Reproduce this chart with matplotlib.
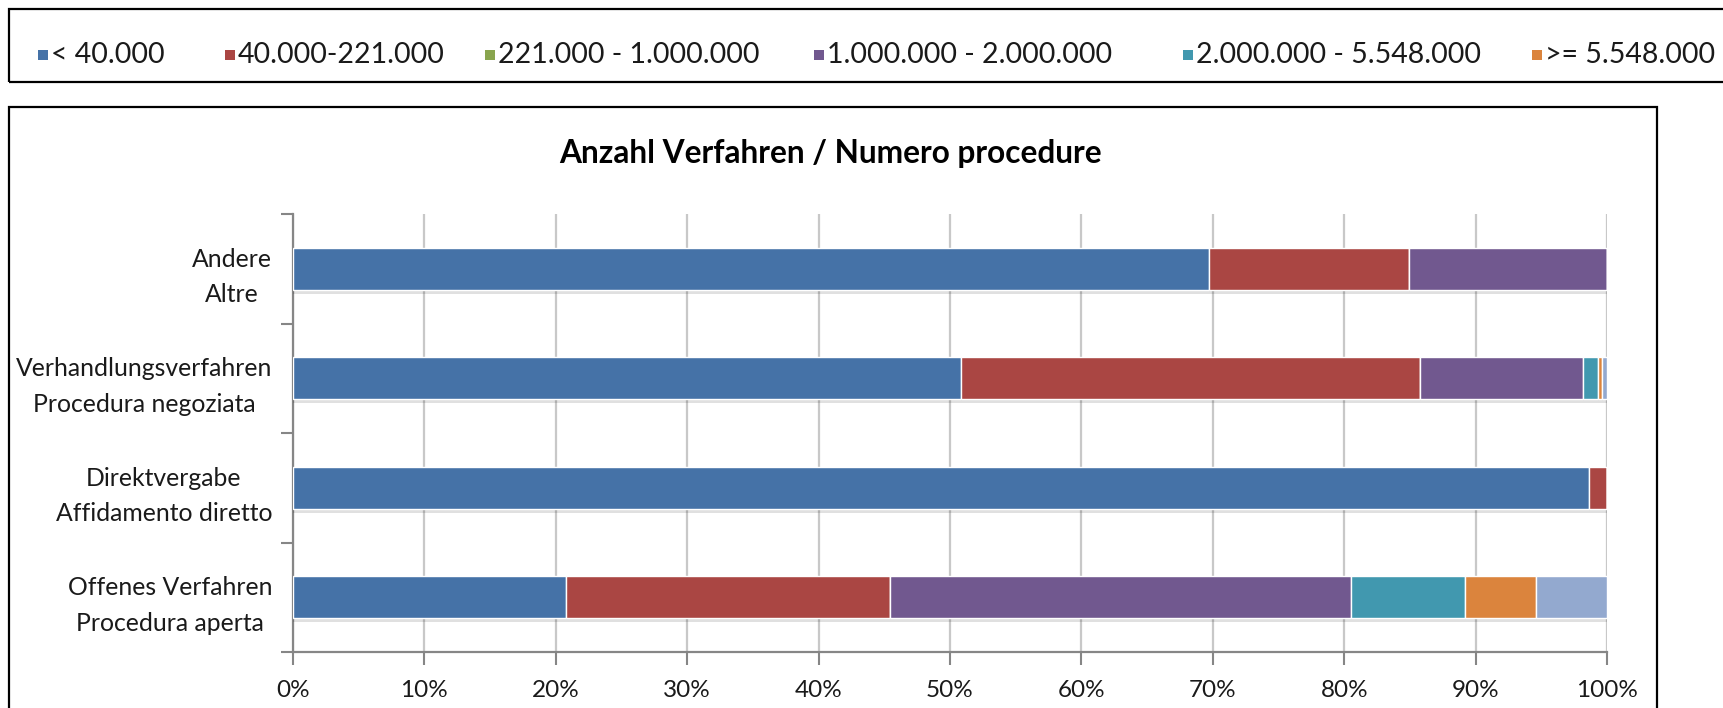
import matplotlib
matplotlib.use("Agg")
import matplotlib.pyplot as plt
import matplotlib.patheffects as pe
import matplotlib.transforms as mtransforms
from matplotlib.patches import Rectangle
import numpy as np

plt.rcParams['font.family'] = ['Lato', 'DejaVu Sans']

categories = ["Offenes Verfahren\nProcedura aperta",
              "Direktvergabe\nAffidamento diretto",
              "Verhandlungsverfahren\nProcedura negoziata",
              "Andere\nAltre"]
series_labels = ["< 40.000", "40.000-221.000", "221.000 - 1.000.000",
                 "1.000.000 - 2.000.000", "2.000.000 - 5.548.000", ">= 5.548.000", ""]
# percentages per series, in category order above
s_lt40 = [20.8, 98.6, 50.8, 69.7]
s_40_221 = [24.6, 1.4, 35.0, 15.2]
s_221_1m = [0.0, 0.0, 0.0, 0.0]
s_1m_2m = [35.1, 0.0, 12.4, 15.1]
s_2m_5m = [8.7, 0.0, 1.1, 0.0]
s_ge5m = [5.4, 0.0, 0.3, 0.0]
s_other = [5.4, 0.0, 0.4, 0.0]
series = [s_lt40, s_40_221, s_221_1m, s_1m_2m, s_2m_5m, s_ge5m, s_other]
colors = ["#4572A7", "#AA4643", "#89A54E", "#71588F", "#4198AF", "#DB843D", "#93A9CF"]
xticks = np.arange(0, 101, 10)
xticklabels = [f"{v}%" for v in xticks]

W, H = 1723, 708
fig = plt.figure(figsize=(W / 100, H / 100), dpi=100)

def fx(px):
    return px / W

def fy(py):
    return 1 - py / H

# legend box
fig.patches.append(Rectangle((fx(9), fy(82)), fx(1760) - fx(9), fy(9) - fy(82),
                             transform=fig.transFigure, fill=False, edgecolor="black",
                             linewidth=1.6, zorder=0))
# chart box
fig.patches.append(Rectangle((fx(9), fy(740)), fx(1657) - fx(9), fy(107) - fy(740),
                             transform=fig.transFigure, fill=False, edgecolor="black",
                             linewidth=1.6, zorder=0))

# legend entries (manual)
leg_x = [38, 225, 485, 814, 1183, 1532]
for i, x in enumerate(leg_x):
    fig.patches.append(Rectangle((fx(x), fy(60)), fx(10), 10 / H,
                                 transform=fig.transFigure, facecolor=colors[i],
                                 edgecolor="none"))
    fig.text(fx(x + 13), fy(55), series_labels[i], fontsize=20.5, va="center",
             ha="left", color="#1a1a1a")

# title
fig.text(fx(830), fy(154), "Anzahl Verfahren / Numero procedure", fontsize=22.8,
         fontweight="bold", ha="center", va="center", color="black")

ax = fig.add_axes([fx(293), fy(652), fx(1607) - fx(293), fy(214) - fy(652)])
y = np.arange(len(categories))
left = np.zeros(len(categories))
for vals, col, lab in zip(series, colors, series_labels):
    vals = np.array(vals)
    bars = ax.barh(y, vals, left=left, height=0.38, color=col, edgecolor="white",
                   linewidth=1.0, label=lab, zorder=3)
    for b in bars:
        b.set_path_effects([pe.SimplePatchShadow(offset=(0, -3), shadow_rgbFace="black",
                                                 alpha=0.12), pe.Normal()])
    left += vals

ax.set_xlim(0, 100)
ax.set_ylim(-0.5, len(categories) - 0.5)
ax.set_xticks(xticks)
ax.set_xticklabels(xticklabels, fontsize=17.5, color="#1a1a1a")
ax.set_yticks(y)
ax.set_yticklabels(categories, fontsize=17.8, color="#1a1a1a", multialignment="center",
                   linespacing=1.65)
shift = mtransforms.ScaledTranslation(0, 4 / 100, fig.dpi_scale_trans)
for lbl in ax.get_yticklabels():
    lbl.set_transform(lbl.get_transform() + shift)
ax.set_yticks(np.arange(-0.5, len(categories), 1), minor=True)
ax.tick_params(axis="y", which="major", length=0, pad=15)
ax.tick_params(axis="y", which="minor", length=9, color="#868686", width=1.5, direction="out")
ax.tick_params(axis="x", which="major", length=9, color="#868686", width=1.5, direction="out", pad=11)
ax.grid(axis="x", color="#c8c8c8", linewidth=1.6, zorder=0)
for s in ["top", "right"]:
    ax.spines[s].set_visible(False)
for s in ["left", "bottom"]:
    ax.spines[s].set_color("#868686")
    ax.spines[s].set_linewidth(1.6)

fig.savefig("out.png", dpi=100)
